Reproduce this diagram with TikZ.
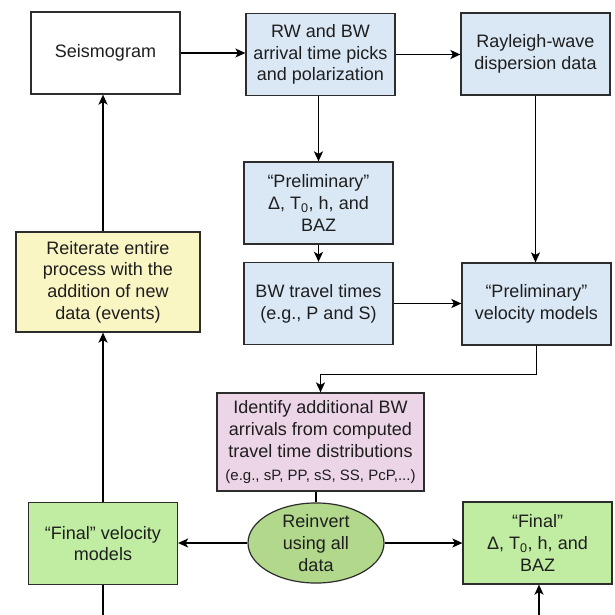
\documentclass[tikz,border=0pt]{standalone}
\usepackage{fontspec}
\setmainfont{Liberation Sans}
\usetikzlibrary{arrows.meta,shapes.geometric}

\definecolor{boxline}{RGB}{45,45,45}
\definecolor{txtgray}{RGB}{30,30,30}
\definecolor{pickblue}{RGB}{218,232,246}
\definecolor{iteryellow}{RGB}{250,246,196}
\definecolor{identpink}{RGB}{237,213,232}
\definecolor{finalgreen}{RGB}{193,237,162}
\definecolor{invgreen}{RGB}{178,216,140}

\tikzset{
	box/.style={draw=boxline, line width=1.2pt, align=center, inner sep=0pt,
		text=txtgray, font=\fontsize{18}{21.7}\selectfont,
		minimum width=149pt, minimum height=82pt},
	bluebox/.style={box, fill=pickblue},
	greenbox/.style={box, fill=finalgreen},
	conn/.style={draw=black, line width=1.6pt},
	arr/.style={conn, -{Stealth[length=10pt,width=9pt,inset=2.5pt]}}
}

\begin{document}
\begin{tikzpicture}[x=1pt, y=-1pt]
		\useasboundingbox (0, 0) rectangle (614, 615);

		% 上段のボックス
		\node[box] (seis) at (105.5, 53) {Seismogram};
		\node[bluebox] (picks) at (320.5, 54.5) {RW and BW\\arrival time picks\\and polarization};
		\node[bluebox] (rayl) at (535.5, 54) {Rayleigh-wave\\dispersion data};

		% 中段のボックス
		\node[bluebox] (prelim) at (318.5, 203) {“Preliminary”\\Δ, T\textsubscript{0}, h, and\\BAZ};
		\node[bluebox] (bwtt) at (318.5, 303.5) {BW travel times\\(e.g., P and S)};
		\node[bluebox] (pvel) at (536.5, 304) {“Preliminary”\\velocity models};
		\node[box, fill=iteryellow, minimum width=184pt, minimum height=100pt] (reit) at (108, 282)
			{Reiterate entire\\process with the\\addition of new\\data (events)};
		\node[box, fill=identpink, minimum width=207pt, minimum height=98pt] (ident) at (320.5, 442)
			{Identify additional BW\\arrivals from computed\\travel time distributions\\[1pt]
			{\fontsize{15}{18}\selectfont (e.g., sP, PP, sS, SS, PcP,...)}};

		% 下段
		\node[box, ellipse, fill=invgreen, minimum width=136pt, minimum height=78pt] (reinv) at (316, 543)
			{Reinvert\\using all\\data};
		\node[greenbox] (fvel) at (103, 543.5) {“Final” velocity\\models};
		\node[greenbox] (fbaz) at (537.5, 543) {“Final”\\Δ, T\textsubscript{0}, h, and\\BAZ};
		\coordinate (fvelend) at (103, 615);
		\coordinate (fbazstart) at (539, 615);

		% 矢印を描画
		\draw[arr] (seis.east) -- (seis.east -| picks.west);
		\draw[arr] (picks.east) -- (picks.east -| rayl.west);
		\draw[arr] (prelim.north |- picks.south) -- (prelim.north);
		\draw[arr] (prelim) -- (bwtt);
		\draw[arr] (bwtt.east) -- (bwtt.east -| pvel.west);
		\draw[arr, line width=1.3pt] (rayl.south) -- (rayl.south |- pvel.north);
		\draw[arr] (pvel.south) -- ++(0, 29) -| (ident.north);
		\draw[conn] (reinv.north |- ident.south) -- (reinv.north);
		\draw[arr] (reinv.west) -- (reinv.west -| fvel.east);
		\draw[arr] (reinv.east) -- (reinv.east -| fbaz.west);
		\draw[arr] (fvel.north) -- (fvel.north |- reit.south);
		\draw[arr] (fvel.north |- reit.north) -- (fvel.north |- seis.south);

		% 下へ続く線
		\draw[conn] (fvel.south) -- (fvelend);
		\draw[arr] (fbazstart) -- (fbazstart |- fbaz.south);
\end{tikzpicture}
\end{document}
